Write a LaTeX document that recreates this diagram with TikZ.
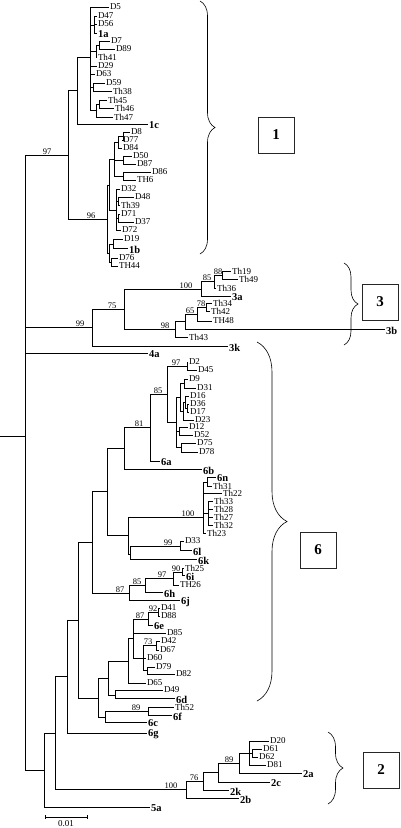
\documentclass[tikz,border=0pt]{standalone}
\usepackage{fontspec}
\setmainfont{Liberation Serif}
\usetikzlibrary{decorations.pathreplacing}
\newcommand\lf[4]{\coordinate (#1) at (#2,#3); \node[lab] (#1-t) at (#1) {#4};}
\newcommand\lfb[4]{\coordinate (#1) at (#2,#3); \node[labb] (#1-t) at (#1) {#4};}
\newcommand\inn[3]{\coordinate (#1) at (#2,#3);}
\newcommand\bsv[4]{\node[bsl] (#1) at (#2,#3) {#4};}
\begin{document}
\begin{tikzpicture}[x=1pt,y=-1pt,
  lab/.style={anchor=west, inner sep=0.8pt, font=\fontsize{9}{9}\selectfont},
  labb/.style={anchor=west, inner sep=0.8pt, yshift=-1.5pt, font=\fontsize{10.5}{10.5}\selectfont\bfseries},
  bsl/.style={anchor=south, inner sep=0.3pt, font=\fontsize{8.5}{8.5}\selectfont},
  br/.style={line width=0.6pt},
  brc/.style={line width=0.6pt, decorate, decoration={brace, amplitude=#1}},
  cbox/.style={draw=black!85, line width=0.7pt, minimum width=36pt, minimum height=36pt, inner sep=0pt, font=\fontsize{15}{15}\selectfont\bfseries}]
\useasboundingbox (0,0) rectangle (400,828);
% ---------- cluster 1 leaves
\lf{D5}{109}{7}{D5}
\lf{D47}{97}{16}{D47}
\lf{D56}{97}{24}{D56}
\lfb{g1a}{97}{33}{1a}
\lf{D7}{110}{41}{D7}
\lf{D89}{115}{49}{D89}
\lf{Th41}{97}{57}{Th41}
\lf{D29}{97}{66}{D29}
\lf{D63}{95}{74}{D63}
\lf{D59}{105}{83}{D59}
\lf{Th38}{112}{91}{Th38}
\lf{Th45}{107}{100}{Th45}
\lf{Th46}{114}{108}{Th46}
\lf{Th47}{113}{117}{Th47}
\lfb{g1c}{148}{124}{1c}
\lf{D8}{130}{132}{D8}
\lf{D77}{122}{140}{D77}
\lf{D84}{122}{148}{D84}
\lf{D50}{132}{156}{D50}
\lf{D87}{136}{164}{D87}
\lf{D86}{151}{172}{D86}
\lf{TH6}{136}{180}{TH6}
\lf{D32}{120}{189}{D32}
\lf{D48}{134}{197}{D48}
\lf{Th39}{120}{205}{Th39}
\lf{D71}{120}{214}{D71}
\lf{D37}{134}{222}{D37}
\lf{D72}{121}{230}{D72}
\lf{D19}{123}{239}{D19}
\lfb{g1b}{128}{248}{1b}
\lf{D76}{118}{258}{D76}
\lf{TH44}{118}{266}{TH44}
% ---------- cluster 1 internal
\inn{R0}{0}{436}
\inn{R}{25}{436}
\inn{U1}{94}{25}
\inn{U2a}{99}{45}
\inn{U2}{96}{51}
\inn{U3}{93}{87}
\inn{U4a}{99}{104}
\inn{U4}{96}{110}
\inn{T2}{90}{57}
\inn{T1}{77}{90}
\inn{X1a}{123}{136}
\inn{X1}{118}{142}
\inn{X2}{123}{160}
\inn{X3}{123}{176}
\inn{W1}{114}{159}
\inn{Y1}{118}{201}
\inn{Y3}{118}{218}
\inn{W2}{116}{210}
\inn{V1}{109}{185}
\inn{Z1}{113}{244}
\inn{Z2}{111}{262}
\inn{V2}{109}{253}
\inn{N96}{107}{219}
\inn{N97}{68}{155}
% ---------- cluster 3, 4a
\lf{Th19}{231}{271}{Th19}
\lf{Th49}{238}{279}{Th49}
\lf{Th36}{216}{288}{Th36}
\lfb{g3a}{231}{296}{3a}
\lf{Th34}{212}{303}{Th34}
\lf{Th42}{210}{311}{Th42}
\lf{TH48}{212}{321}{TH48}
\lfb{g3b}{385}{329}{3b}
\lf{Th43}{188}{337}{Th43}
\lfb{g3k}{228}{346}{3k}
\lfb{g4a}{148}{353}{4a}
\inn{N88}{222}{275}
\inn{N85}{214}{281.5}
\inn{N100}{201}{289}
\inn{N78}{206}{307.5}
\inn{K1}{197}{314}
\inn{N65}{185}{321.5}
\inn{N98}{175}{329}
\inn{N75}{124}{309}
\inn{N99}{92}{327.5}
% ---------- cluster 6 leaves
\lf{D2}{188}{362}{D2}
\lf{D45}{197}{370}{D45}
\lf{D9}{188}{379}{D9}
\lf{D31}{196}{388}{D31}
\lf{D16}{189}{396}{D16}
\lf{D36}{189}{404}{D36}
\lf{D17}{189}{412}{D17}
\lf{D23}{194}{420}{D23}
\lf{D12}{188}{427}{D12}
\lf{D52}{193}{435}{D52}
\lf{D75}{196}{443}{D75}
\lf{D78}{198}{452}{D78}
\lfb{g6a}{160}{461}{6a}
\lfb{g6b}{202}{469}{6b}
\lfb{g6n}{216}{477}{6n}
\lf{Th31}{212}{486}{Th31}
\lf{Th22}{222}{493}{Th22}
\lf{Th33}{213}{501}{Th33}
\lf{Th28}{213}{509}{Th28}
\lf{Th27}{213}{517}{Th27}
\lf{Th32}{213}{525}{Th32}
\lf{Th23}{206}{533}{Th23}
\lf{D33}{184}{541}{D33}
\lfb{g6l}{192}{550}{6l}
\lfb{g6k}{197}{559}{6k}
\lf{Th25}{184}{568}{Th25}
\lfb{g6i}{185}{575}{6i}
\lf{TH26}{179}{585}{TH26}
\lfb{g6h}{163}{592}{6h}
\lfb{g6j}{180}{600}{6j}
\lf{D41}{160}{608}{D41}
\lf{D88}{160}{616}{D88}
\lfb{g6e}{153}{625}{6e}
\lf{D85}{166}{633}{D85}
\lf{D42}{160}{641}{D42}
\lf{D67}{159}{650}{D67}
\lf{D60}{146}{658}{D60}
\lf{D79}{155}{667}{D79}
\lf{D82}{175}{674}{D82}
\lf{D65}{146}{683}{D65}
\lf{D49}{163}{690}{D49}
\lfb{g6d}{175}{698}{6d}
\lf{Th52}{174}{707}{Th52}
\lfb{g6f}{172}{715}{6f}
\lfb{g6c}{147}{722}{6c}
\lfb{g6g}{147}{733}{6g}
% ---------- cluster 6 internal
\inn{N97c}{187}{366}
\inn{G1}{184}{383.5}
\inn{L}{187}{408}
\inn{K}{185}{402}
\inn{J}{183}{411}
\inn{G}{180}{397}
\inn{H}{179}{431}
\inn{I}{181}{447.5}
\inn{F}{176}{422}
\inn{N85c}{167}{394}
\inn{N81}{150}{427.5}
\inn{N124}{124}{448}
\inn{P}{207}{482}
\inn{R2}{208}{513}
\inn{N203}{203}{517}
\inn{N99b}{180}{546.5}
\inn{M}{130}{554}
\inn{N128b}{128}{535}
\inn{N107}{107}{491.5}
\inn{N90}{182}{572}
\inn{N97b}{173}{578}
\inn{N85b}{145}{585.5}
\inn{N87b}{129}{593}
\inn{N92}{92}{542}
\inn{Nn92}{158}{612}
\inn{N87}{148}{619}
\inn{N73}{156}{645.5}
\inn{N147}{147}{670.5}
\inn{N143}{143}{658}
\inn{N133}{133}{638}
\inn{N128}{128}{661}
\inn{N115}{115}{695}
\inn{N108}{108}{678}
\inn{N89b}{148}{711.5}
\inn{N105}{105}{717}
\inn{N98b}{98}{698}
\inn{N78b}{78}{620}
\inn{N67}{67}{676}
% ---------- cluster 2, 5a
\lf{D20}{269}{741}{D20}
\lf{D61}{262}{749}{D61}
\lf{D62}{258}{757}{D62}
\lf{D81}{266}{765}{D81}
\lfb{g2a}{302}{773}{2a}
\lfb{g2c}{270}{782}{2c}
\lfb{g2k}{229}{790}{2k}
\lfb{g2b}{239}{798}{2b}
\lfb{g5a}{150}{807}{5a}
\inn{E2}{252}{753}
\inn{E}{249}{753}
\inn{N89c}{239}{763}
\inn{C2}{218}{772.5}
\inn{N76}{203}{781}
\inn{Nc2}{186}{789.5}
\inn{N55}{55}{733}
\inn{Nlow}{44}{770}
% ---------- branches
\draw[br] (R0) -- (R);
\foreach \p/\c in {R/N97, R/N99, R/g4a, R/Nlow,
 N97/T1, N97/N96, T1/T2, T1/g1c,
 T2/D5, T2/U1, T2/U2, T2/D29, T2/D63, T2/U3, T2/U4,
 U1/D47, U1/D56, U1/g1a, U2/U2a, U2/Th41, U2a/D7, U2a/D89,
 U3/D59, U3/Th38, U4/U4a, U4/Th47, U4a/Th45, U4a/Th46,
 N96/V1, N96/V2, V1/W1, V1/W2,
 W1/X1, W1/X2, W1/X3, X1/X1a, X1/D84, X1a/D8, X1a/D77, X2/D50, X2/D87, X3/D86, X3/TH6,
 W2/D32, W2/Y1, W2/Y3, W2/D72, Y1/D48, Y1/Th39, Y3/D71, Y3/D37,
 V2/Z1, V2/Z2, Z1/D19, Z1/g1b, Z2/D76, Z2/TH44,
 N99/N75, N99/g3k, N75/N100, N75/N98, N100/N85, N100/g3a, N85/N88, N85/Th36, N88/Th19, N88/Th49,
 N98/N65, N98/Th43, N65/K1, N65/g3b, K1/N78, K1/TH48, N78/Th34, N78/Th42,
 Nlow/N55, Nlow/g5a, N55/N67, N55/Nc2,
 Nc2/N76, Nc2/g2b, N76/C2, N76/g2k, C2/N89c, C2/g2c, N89c/E, N89c/g2a, E/D20, E/E2, E/D81, E2/D61, E2/D62,
 N67/N78b, N67/g6g, N78b/N92, N78b/N98b, N92/N107, N92/N87b,
 N107/N124, N107/N128b, N124/N81, N124/g6b, N81/N85c, N81/g6a, N85c/N97c, N85c/F, N97c/D2, N97c/D45,
 F/G, F/H, F/I, G/G1, G/J, G1/D9, G1/D31, J/K, J/D23, K/D16, K/L, L/D36, L/D17, H/D12, H/D52, I/D75, I/D78,
 N128b/N203, N128b/M, N203/P, N203/Th22, N203/R2, N203/Th23, P/g6n, P/Th31, R2/Th33, R2/Th28, R2/Th27, R2/Th32,
 M/N99b, M/g6k, N99b/D33, N99b/g6l,
 N87b/N85b, N87b/g6j, N85b/N97b, N85b/g6h, N97b/N90, N97b/TH26, N90/Th25, N90/g6i,
 N98b/N108, N98b/N105, N108/N128, N108/N115, N128/N133, N128/D65, N133/N87, N133/D85, N133/N143,
 N87/Nn92, N87/g6e, Nn92/D41, Nn92/D88, N143/N73, N143/D60, N143/N147, N73/D42, N73/D67, N147/D79, N147/D82,
 N115/D49, N115/g6d, N105/N89b, N105/g6c, N89b/Th52, N89b/g6f}
 \draw[br] (\p) |- (\c);
% ---------- bootstrap values
\bsv{b1}{47}{155}{97}
\bsv{b2}{91}{219}{96}
\bsv{b3}{80}{327.5}{99}
\bsv{b4}{112}{309}{75}
\bsv{b5}{186}{289}{100}
\bsv{b6}{207}{281.5}{85}
\bsv{b7}{218}{275}{88}
\bsv{b8}{201}{307.5}{78}
\bsv{b9}{190}{314}{65}
\bsv{b10}{165}{329}{98}
\bsv{b11}{176}{366}{97}
\bsv{b12}{158}{394}{85}
\bsv{b13}{139}{427.5}{81}
\bsv{b14}{188}{517}{100}
\bsv{b15}{168}{546.5}{99}
\bsv{b16}{176}{572}{90}
\bsv{b17}{162}{578}{97}
\bsv{b18}{137}{585.5}{85}
\bsv{b19}{120}{593}{87}
\bsv{b20}{153}{612}{92}
\bsv{b21}{140}{619}{87}
\bsv{b22}{148}{645.5}{73}
\bsv{b23}{136}{711.5}{89}
\bsv{b24}{171}{789.5}{100}
\bsv{b25}{194}{781}{76}
\bsv{b26}{229}{763}{89}
% ---------- scale bar
\coordinate (sb1) at (45,817);
\coordinate (sb2) at (87,817);
\draw[br] (sb1) -- (sb2);
\draw[br] ([yshift=2pt]sb1) -- ([yshift=-2pt]sb1);
\draw[br] ([yshift=2pt]sb2) -- ([yshift=-2pt]sb2);
\node[inner sep=0pt, font=\fontsize{9}{9}\selectfont] (sbl) at (66,824) {0.01};
% ---------- braces and boxes
\coordinate (br1a) at (200,1);   \coordinate (br1b) at (200,254);
\coordinate (br3a) at (344,263); \coordinate (br3b) at (344,345);
\coordinate (br6a) at (257,342); \coordinate (br6b) at (257,701);
\coordinate (br2a) at (328,732); \coordinate (br2b) at (328,804);
\draw[brc=15pt] (br1a) -- (br1b);
\draw[brc=14pt] (br3a) -- (br3b);
\draw[brc=30pt] (br6a) -- (br6b);
\draw[brc=15pt] (br2a) -- (br2b);
\node[cbox] (box1) at (276,135) {1};
\node[cbox] (box3) at (380,302) {3};
\node[cbox] (box6) at (318,550) {6};
\node[cbox] (box2) at (381,770) {2};
\end{tikzpicture}
\end{document}
